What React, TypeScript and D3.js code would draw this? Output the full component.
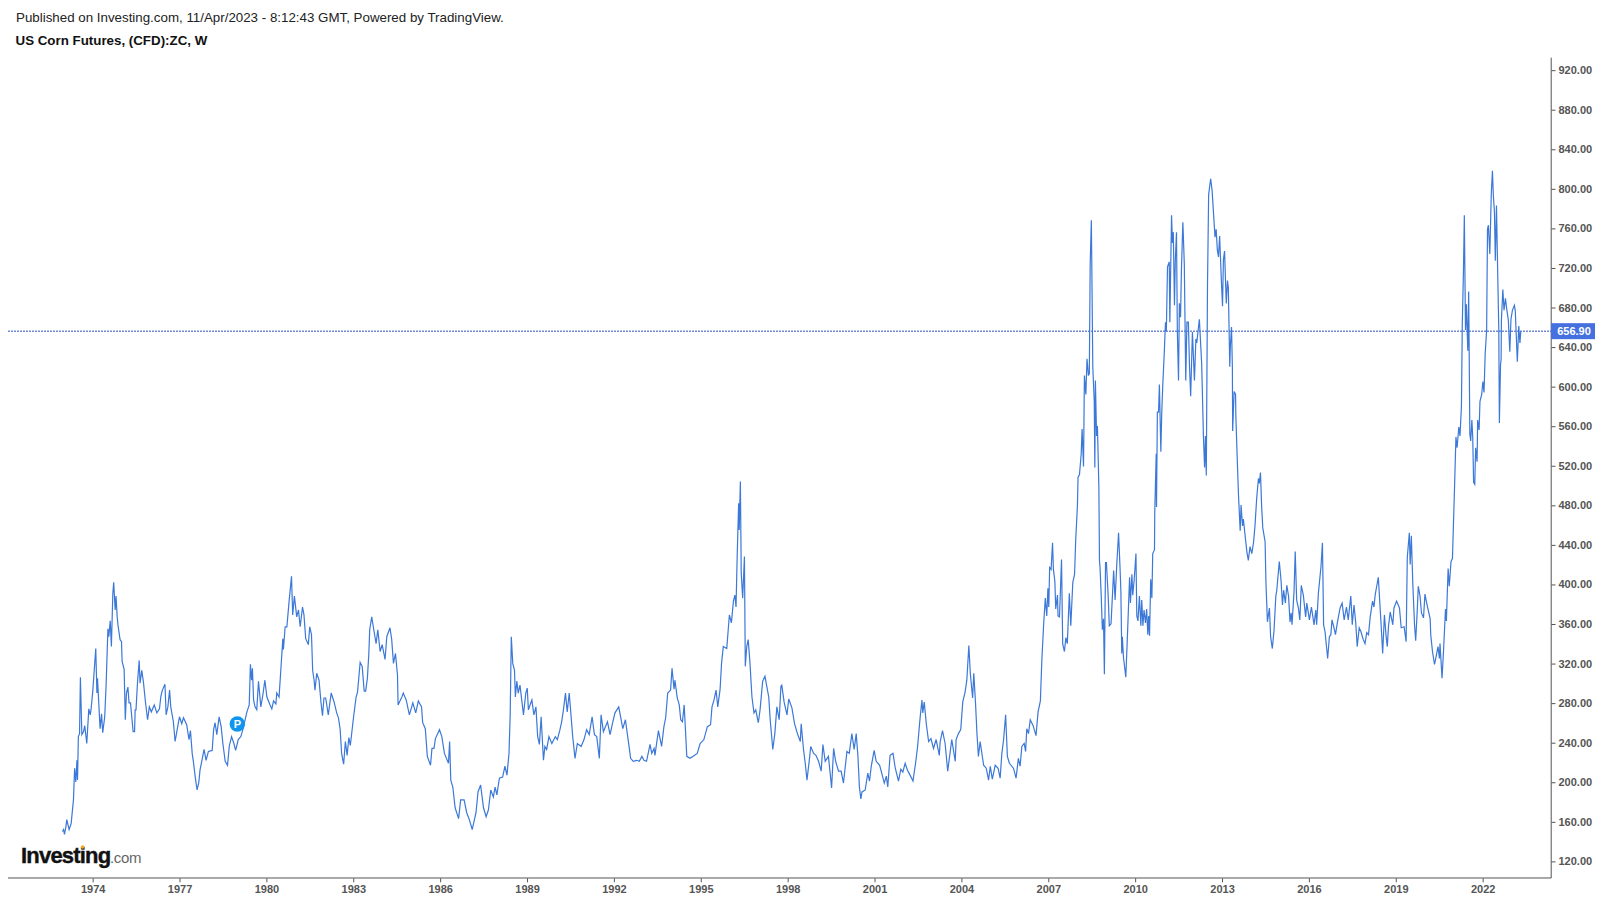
import React, { useEffect, useRef } from "react";
import * as d3 from "d3";

type Close = [number, number];

// [decimal year, weekly close]
const seventies: Close[] = [
  [1972.93, 151], [1972.97, 153], [1973.0, 148], [1973.05, 156], [1973.08, 163], [1973.16, 153], [1973.23, 159], [1973.31, 183],
  [1973.35, 215], [1973.39, 201], [1973.43, 223], [1973.45, 203], [1973.48, 247], [1973.52, 250], [1973.55, 307], [1973.6, 249],
  [1973.66, 252], [1973.7, 258], [1973.77, 240], [1973.84, 275], [1973.89, 269], [1973.92, 275], [1973.98, 294], [1974.08, 336],
  [1974.12, 291], [1974.14, 306], [1974.23, 255], [1974.28, 270], [1974.32, 251], [1974.39, 267], [1974.44, 301], [1974.5, 356],
  [1974.53, 348], [1974.58, 364], [1974.62, 338], [1974.67, 392], [1974.7, 403], [1974.75, 375], [1974.78, 389], [1974.82, 368],
  [1974.85, 359], [1974.92, 345], [1974.97, 343], [1974.99, 323], [1975.06, 315], [1975.1, 264], [1975.14, 291], [1975.19, 297],
  [1975.23, 281], [1975.28, 281], [1975.37, 252], [1975.42, 252], [1975.44, 274], [1975.47, 274], [1975.52, 301], [1975.58, 324],
  [1975.61, 301], [1975.67, 314], [1975.73, 301], [1975.8, 281], [1975.87, 264], [1975.93, 277], [1976.0, 272], [1976.1, 279],
  [1976.19, 271], [1976.28, 275], [1976.33, 288], [1976.38, 294], [1976.47, 300], [1976.51, 269], [1976.57, 277], [1976.63, 294],
  [1976.67, 277], [1976.76, 262], [1976.82, 242], [1976.88, 252], [1976.97, 267], [1977.05, 260], [1977.11, 266], [1977.22, 259],
  [1977.3, 244], [1977.35, 253], [1977.41, 230], [1977.45, 222], [1977.52, 205], [1977.58, 193], [1977.64, 201], [1977.68, 213],
  [1977.74, 222], [1977.82, 234], [1977.89, 223], [1977.97, 232], [1978.1, 233], [1978.15, 254], [1978.2, 261], [1978.26, 249],
  [1978.34, 267], [1978.41, 257], [1978.47, 240], [1978.55, 222], [1978.63, 218], [1978.69, 237], [1978.77, 247], [1978.85, 240],
  [1978.91, 233], [1979.0, 244], [1979.09, 247], [1979.16, 254], [1979.3, 272], [1979.38, 279], [1979.42, 320], [1979.46, 304],
  [1979.49, 316], [1979.53, 284], [1979.58, 277], [1979.64, 274], [1979.7, 303], [1979.78, 277], [1979.85, 289], [1979.92, 304],
];

const eighties: Close[] = [
  [1979.99, 287], [1980.1, 279], [1980.16, 275], [1980.22, 283], [1980.3, 280], [1980.33, 291], [1980.41, 287], [1980.47, 314],
  [1980.54, 346], [1980.56, 335], [1980.62, 358], [1980.68, 358], [1980.76, 385], [1980.84, 409], [1980.88, 370], [1980.94, 389],
  [1981.02, 368], [1981.08, 375], [1981.14, 358], [1981.22, 378], [1981.27, 370], [1981.33, 346], [1981.42, 340], [1981.47, 358],
  [1981.53, 350], [1981.57, 314], [1981.62, 304], [1981.65, 294], [1981.71, 311], [1981.79, 304], [1981.86, 281], [1981.91, 268],
  [1981.96, 286], [1982.02, 286], [1982.11, 269], [1982.21, 291], [1982.31, 282], [1982.4, 271], [1982.46, 266], [1982.52, 254],
  [1982.57, 230], [1982.64, 219], [1982.7, 242], [1982.76, 228], [1982.82, 246], [1982.87, 238], [1982.98, 266], [1983.07, 287],
  [1983.12, 292], [1983.21, 322], [1983.28, 318], [1983.35, 293], [1983.4, 293], [1983.46, 306], [1983.51, 331], [1983.54, 355],
  [1983.61, 368], [1983.67, 357], [1983.76, 341], [1983.82, 355], [1983.9, 333], [1983.97, 340], [1984.07, 325], [1984.13, 348],
  [1984.24, 357], [1984.3, 345], [1984.36, 321], [1984.43, 331], [1984.5, 309], [1984.52, 279], [1984.65, 287], [1984.7, 291],
  [1984.8, 284], [1984.91, 269], [1985.03, 281], [1985.13, 271], [1985.22, 283], [1985.33, 277], [1985.37, 261], [1985.46, 255],
  [1985.53, 227], [1985.64, 218], [1985.69, 235], [1985.76, 235], [1985.81, 245], [1985.95, 254], [1986.03, 247], [1986.12, 230],
  [1986.26, 220], [1986.3, 242], [1986.34, 203], [1986.41, 196], [1986.49, 175], [1986.61, 164], [1986.68, 183], [1986.8, 183],
  [1986.89, 170], [1986.98, 163], [1987.08, 153], [1987.21, 170], [1987.28, 191], [1987.37, 198], [1987.47, 175], [1987.56, 166],
  [1987.64, 173], [1987.72, 193], [1987.81, 186], [1987.87, 196], [1987.93, 188], [1988.02, 205], [1988.13, 206], [1988.21, 217],
  [1988.28, 208], [1988.35, 230], [1988.39, 267], [1988.43, 348], [1988.48, 321], [1988.54, 314], [1988.57, 287], [1988.62, 303],
  [1988.67, 291], [1988.73, 299], [1988.85, 269], [1988.93, 291], [1988.98, 296], [1989.02, 274], [1989.1, 281], [1989.14, 284],
  [1989.21, 269], [1989.28, 277], [1989.34, 247], [1989.4, 239], [1989.46, 267], [1989.54, 223], [1989.59, 237], [1989.65, 234],
  [1989.73, 247], [1989.83, 240], [1989.95, 247],
];

const nineties: Close[] = [
  [1990.02, 244], [1990.11, 254], [1990.17, 262], [1990.23, 274], [1990.3, 291], [1990.36, 272], [1990.43, 291], [1990.55, 247],
  [1990.63, 225], [1990.71, 240], [1990.84, 237], [1990.94, 244], [1991.03, 254], [1991.12, 249], [1991.22, 267], [1991.3, 249],
  [1991.38, 247], [1991.47, 225], [1991.53, 269], [1991.61, 252], [1991.75, 262], [1991.84, 249], [1991.93, 261], [1992.01, 271],
  [1992.14, 277], [1992.28, 255], [1992.37, 264], [1992.51, 234], [1992.55, 225], [1992.64, 222], [1992.76, 223], [1992.85, 222],
  [1992.94, 227], [1993.01, 223], [1993.1, 222], [1993.22, 239], [1993.28, 230], [1993.36, 235], [1993.39, 228], [1993.51, 253],
  [1993.62, 237], [1993.7, 257], [1993.76, 266], [1993.83, 291], [1993.93, 294], [1993.98, 316], [1994.05, 295], [1994.08, 304],
  [1994.16, 286], [1994.23, 279], [1994.28, 264], [1994.34, 262], [1994.4, 279], [1994.49, 227], [1994.6, 225], [1994.71, 227],
  [1994.85, 230], [1994.95, 240], [1995.08, 244], [1995.2, 257], [1995.31, 259], [1995.36, 277], [1995.43, 284], [1995.5, 294],
  [1995.56, 277], [1995.64, 295], [1995.69, 321], [1995.75, 338], [1995.87, 336], [1995.96, 370], [1996.03, 362], [1996.1, 384],
  [1996.15, 390], [1996.19, 378], [1996.23, 429], [1996.28, 483], [1996.3, 456], [1996.34, 505], [1996.37, 412], [1996.42, 387],
  [1996.48, 429], [1996.51, 318], [1996.56, 338], [1996.61, 345], [1996.67, 322], [1996.74, 287], [1996.81, 271], [1996.87, 274],
  [1996.96, 261], [1997.02, 274], [1997.11, 303], [1997.19, 308], [1997.25, 298], [1997.32, 287], [1997.37, 264], [1997.46, 234],
  [1997.53, 250], [1997.6, 277], [1997.68, 264], [1997.74, 298], [1997.77, 299], [1997.85, 282], [1997.95, 269], [1998.01, 285],
  [1998.12, 276], [1998.21, 260], [1998.31, 250], [1998.41, 242], [1998.44, 260], [1998.52, 234], [1998.58, 220], [1998.64, 203],
  [1998.72, 223], [1998.77, 237], [1998.87, 230], [1998.95, 228], [1999.04, 222], [1999.13, 212], [1999.19, 239], [1999.27, 222],
  [1999.38, 227], [1999.44, 210], [1999.49, 195], [1999.56, 235], [1999.63, 222], [1999.73, 212], [1999.82, 212], [1999.9, 200],
];

const noughties: Close[] = [
  [2000.02, 232], [2000.1, 230], [2000.19, 250], [2000.27, 234], [2000.34, 250], [2000.4, 227], [2000.45, 196], [2000.5, 184],
  [2000.54, 191], [2000.65, 193], [2000.74, 210], [2000.8, 202], [2000.86, 217], [2000.96, 233], [2001.03, 222], [2001.15, 218],
  [2001.31, 200], [2001.38, 207], [2001.43, 196], [2001.51, 228], [2001.61, 230], [2001.69, 215], [2001.8, 202], [2001.88, 214],
  [2001.95, 211], [2002.03, 220], [2002.11, 213], [2002.2, 208], [2002.3, 202], [2002.39, 220], [2002.46, 237], [2002.55, 267],
  [2002.61, 284], [2002.64, 271], [2002.69, 282], [2002.76, 260], [2002.84, 242], [2002.92, 245], [2003.01, 235], [2003.1, 244],
  [2003.21, 228], [2003.24, 242], [2003.32, 253], [2003.41, 240], [2003.5, 212], [2003.64, 244], [2003.76, 222], [2003.79, 244],
  [2003.87, 250], [2003.95, 254], [2004.02, 282], [2004.1, 292], [2004.16, 304], [2004.23, 339], [2004.28, 311], [2004.36, 286],
  [2004.4, 311], [2004.46, 281], [2004.51, 250], [2004.56, 227], [2004.62, 242], [2004.74, 218], [2004.83, 215], [2004.91, 203],
  [2004.97, 217], [2005.04, 204], [2005.14, 218], [2005.24, 215], [2005.31, 205], [2005.37, 230], [2005.43, 244], [2005.5, 269],
  [2005.56, 227], [2005.63, 220], [2005.77, 215], [2005.86, 205], [2005.94, 225], [2006.0, 217], [2006.06, 237], [2006.14, 240],
  [2006.19, 232], [2006.23, 255], [2006.29, 250], [2006.35, 264], [2006.45, 258], [2006.55, 248], [2006.62, 272], [2006.7, 283],
  [2006.75, 324], [2006.81, 359], [2006.87, 387], [2006.92, 369], [2006.96, 397], [2006.99, 378], [2007.02, 418], [2007.07, 416],
  [2007.12, 443], [2007.15, 416], [2007.2, 404], [2007.23, 376], [2007.29, 390], [2007.31, 369], [2007.36, 368], [2007.43, 426],
  [2007.47, 341], [2007.53, 333], [2007.58, 347], [2007.63, 341], [2007.7, 392], [2007.75, 359], [2007.82, 403], [2007.88, 411],
  [2007.92, 446], [2007.98, 481], [2008.0, 509], [2008.05, 512], [2008.11, 533], [2008.14, 558], [2008.19, 520], [2008.22, 612],
  [2008.27, 593], [2008.31, 629], [2008.36, 612], [2008.39, 614], [2008.42, 725], [2008.46, 769], [2008.51, 621], [2008.56, 586],
  [2008.58, 519], [2008.6, 607], [2008.64, 551], [2008.67, 561], [2008.72, 499], [2008.74, 425], [2008.76, 418], [2008.8, 390],
  [2008.84, 355], [2008.88, 366], [2008.91, 310], [2008.95, 423], [2008.98, 423], [2009.04, 390], [2009.08, 359], [2009.14, 361],
  [2009.2, 397], [2009.23, 415], [2009.28, 385], [2009.34, 422], [2009.4, 453], [2009.45, 418], [2009.48, 394], [2009.51, 331],
  [2009.53, 348], [2009.57, 327], [2009.65, 307], [2009.71, 352], [2009.78, 408], [2009.81, 382], [2009.86, 411], [2009.89, 390],
  [2009.94, 406],
];

const tens: Close[] = [
  [2010.0, 432], [2010.03, 369], [2010.07, 364], [2010.12, 389], [2010.17, 359], [2010.2, 385], [2010.24, 359], [2010.28, 375],
  [2010.33, 362], [2010.37, 376], [2010.41, 350], [2010.44, 369], [2010.47, 349], [2010.51, 406], [2010.55, 387], [2010.58, 432],
  [2010.64, 436], [2010.65, 474], [2010.7, 533], [2010.71, 479], [2010.74, 575], [2010.78, 575], [2010.81, 603], [2010.86, 535],
  [2010.89, 574], [2010.93, 605], [2010.98, 636], [2011.02, 666], [2011.05, 657], [2011.09, 722], [2011.15, 727], [2011.17, 666],
  [2011.23, 774], [2011.26, 746], [2011.29, 757], [2011.33, 683], [2011.36, 729], [2011.4, 757], [2011.43, 656], [2011.47, 607],
  [2011.5, 685], [2011.54, 671], [2011.57, 718], [2011.62, 767], [2011.67, 725], [2011.72, 607], [2011.76, 666], [2011.81, 666],
  [2011.85, 621], [2011.89, 591], [2011.95, 656], [2012.02, 607], [2012.07, 649], [2012.1, 645], [2012.19, 669], [2012.27, 624],
  [2012.33, 551], [2012.37, 519], [2012.4, 551], [2012.43, 511], [2012.47, 701], [2012.51, 795], [2012.58, 811], [2012.63, 799],
  [2012.73, 752], [2012.77, 760], [2012.81, 739], [2012.85, 732], [2012.89, 753], [2012.95, 708], [2012.99, 682], [2013.02, 729],
  [2013.06, 738], [2013.1, 701], [2013.12, 685], [2013.16, 708], [2013.19, 701], [2013.24, 621], [2013.26, 642], [2013.3, 661],
  [2013.33, 621], [2013.34, 556], [2013.39, 596], [2013.44, 593], [2013.45, 572], [2013.48, 544], [2013.5, 526], [2013.54, 492],
  [2013.6, 455], [2013.63, 481], [2013.68, 460], [2013.71, 467], [2013.77, 450], [2013.83, 434], [2013.88, 425], [2013.94, 439],
  [2014.0, 432], [2014.06, 443], [2014.11, 460], [2014.17, 488], [2014.23, 508], [2014.26, 503], [2014.3, 514], [2014.34, 480],
  [2014.38, 458], [2014.46, 444], [2014.49, 402], [2014.54, 363], [2014.61, 377], [2014.65, 348], [2014.71, 336], [2014.77, 355],
  [2014.83, 389], [2014.86, 394], [2014.95, 424], [2015.01, 405], [2015.06, 380], [2015.1, 395], [2015.16, 382], [2015.21, 400],
  [2015.27, 389], [2015.32, 363], [2015.36, 372], [2015.39, 360], [2015.46, 394], [2015.5, 434], [2015.55, 385], [2015.61, 377],
  [2015.66, 365], [2015.71, 400], [2015.78, 390], [2015.86, 368], [2015.9, 382], [2015.99, 365], [2016.06, 378], [2016.15, 360],
  [2016.21, 375], [2016.24, 360], [2016.3, 392], [2016.39, 419], [2016.44, 443], [2016.48, 360], [2016.53, 353], [2016.59, 335],
  [2016.62, 326], [2016.68, 348], [2016.73, 350], [2016.77, 365], [2016.84, 357], [2016.89, 350], [2016.96, 363], [2017.05, 377],
  [2017.12, 382], [2017.19, 365], [2017.27, 378], [2017.33, 365], [2017.42, 389], [2017.47, 360], [2017.53, 380], [2017.59, 362],
  [2017.64, 338], [2017.71, 357], [2017.77, 353], [2017.85, 345], [2017.91, 341], [2017.97, 352], [2018.03, 350], [2018.09, 368],
  [2018.17, 384], [2018.22, 378], [2018.26, 390], [2018.32, 400], [2018.37, 408], [2018.43, 378], [2018.48, 353], [2018.52, 331],
  [2018.58, 370], [2018.64, 348], [2018.68, 338], [2018.72, 358], [2018.78, 373], [2018.87, 360], [2018.91, 377], [2019.0, 384],
  [2019.1, 377], [2019.16, 357], [2019.26, 358], [2019.33, 343], [2019.37, 428], [2019.44, 453], [2019.47, 421], [2019.51, 450],
  [2019.56, 402], [2019.62, 360], [2019.66, 344], [2019.71, 372], [2019.75, 399], [2019.81, 389], [2019.86, 372], [2019.93, 367],
];

const twenties: Close[] = [
  [2019.98, 391], [2020.04, 382], [2020.16, 366], [2020.18, 350], [2020.24, 333], [2020.31, 320], [2020.36, 327], [2020.43, 338],
  [2020.48, 326], [2020.5, 341], [2020.57, 306], [2020.62, 333], [2020.69, 376], [2020.72, 364], [2020.78, 417], [2020.82, 399],
  [2020.88, 424], [2020.93, 427], [2020.95, 448], [2021.0, 497], [2021.05, 550], [2021.09, 539], [2021.15, 560], [2021.19, 551],
  [2021.24, 581], [2021.27, 665], [2021.31, 718], [2021.34, 774], [2021.38, 658], [2021.41, 684], [2021.46, 637], [2021.49, 697],
  [2021.53, 553], [2021.56, 546], [2021.6, 567], [2021.63, 550], [2021.66, 504], [2021.7, 502], [2021.73, 539], [2021.78, 525],
  [2021.8, 567], [2021.85, 557], [2021.88, 586], [2021.94, 593], [2021.98, 606], [2022.02, 595], [2022.06, 634], [2022.11, 658],
  [2022.14, 760], [2022.17, 764], [2022.22, 735], [2022.27, 795], [2022.31, 819], [2022.34, 795], [2022.38, 777], [2022.41, 728],
  [2022.45, 784], [2022.48, 735], [2022.5, 704], [2022.53, 658], [2022.55, 564], [2022.59, 623], [2022.61, 628], [2022.62, 668],
  [2022.67, 699], [2022.71, 678], [2022.76, 690], [2022.8, 680], [2022.86, 668], [2022.91, 636], [2022.95, 669], [2023.0, 678],
  [2023.07, 683], [2023.1, 677], [2023.17, 626], [2023.22, 662], [2023.26, 645], [2023.29, 656.9],
];

const yearTicks = [1974, 1977, 1980, 1983, 1986, 1989, 1992, 1995, 1998, 2001, 2004, 2007, 2010, 2013, 2016, 2019, 2022];
const priceTicks = d3.range(120, 921, 40);
const lastPrice = 656.9;
const publishedText = "Published on Investing.com, 11/Apr/2023 - 8:12:43 GMT, Powered by TradingView.";
const titleText = "US Corn Futures, (CFD):ZC, W";

const width = 1602;
const height = 902;
const lineColor = "#3c78d8";
const axisColor = "#555555";
const labelColor = "#555555";
const font = "'Liberation Sans', Arial, sans-serif";

const x = d3.scaleLinear().domain([1971.06, 2024.35]).range([8.3, 1551.5]);
const y = d3.scaleLinear().domain([103.7, 933.1]).range([878.3, 58]);

const App: React.FC = () => {
  const xAxisRef = useRef<SVGGElement>(null);
  const yAxisRef = useRef<SVGGElement>(null);

  useEffect(() => {
    const xAxis = d3
      .axisBottom(x)
      .tickValues(yearTicks)
      .tickSize(4)
      .tickSizeOuter(0)
      .tickPadding(3)
      .offset(-0.3)
      .tickFormat((d) => String(d));
    const yAxis = d3
      .axisRight(y)
      .tickValues(priceTicks)
      .tickSize(4)
      .tickSizeOuter(0)
      .tickPadding(3)
      .offset(-0.3)
      .tickFormat((d) => (d as number).toFixed(2));

    const style = (g: d3.Selection<SVGGElement, unknown, null, undefined>) => {
      g.selectAll("path,line").attr("stroke", axisColor);
      g.selectAll("text")
        .attr("fill", labelColor)
        .style("font-family", font)
        .style("font-size", "11px")
        .style("font-weight", "bold");
    };

    d3.select(xAxisRef.current!).call(xAxis).call(style);
    d3.select(yAxisRef.current!).call(yAxis).call(style);
  }, []);

  const closes = [...seventies, ...eighties, ...nineties, ...noughties, ...tens, ...twenties];
  const line = d3
    .line<Close>()
    .x((d) => x(d[0]))
    .y((d) => y(d[1]));

  return (
    <svg
      width={width}
      height={height}
      style={{ position: "absolute", left: 0, top: 0, background: "#fff" }}
    >
      <text x={16} y={22} fontFamily={font} fontSize={13.33} fill="#222">
        {publishedText}
      </text>
      <text x={15.5} y={45} fontFamily={font} fontSize={13.33} fontWeight="bold" fill="#111">
        {titleText}
      </text>

      <line x1={8} x2={1551} y1={y(lastPrice)} y2={y(lastPrice)} stroke="#2a4fc0" strokeDasharray="2 1" />
      <path d={line(closes) || ""} fill="none" stroke={lineColor} strokeWidth={1.2} />

      <g ref={xAxisRef} transform={`translate(0, ${y.range()[0]})`} />
      <g ref={yAxisRef} transform={`translate(${x.range()[1]}, 0)`} />

      <rect x={1551} y={y(lastPrice) - 8} width={44} height={16} fill="#4470e0" />
      <text
        x={1574}
        y={y(lastPrice) + 4}
        textAnchor="middle"
        fontFamily={font}
        fontSize={11}
        fontWeight="bold"
        fill="#fff"
      >
        {lastPrice.toFixed(2)}
      </text>

      <circle cx={237.3} cy={724} r={7.7} fill="#0d95f0" />
      <text x={237.3} y={728} textAnchor="middle" fontFamily={font} fontSize={11} fontWeight="bold" fill="#fff">
        P
      </text>

      <text
        x={21}
        y={863}
        fontFamily={font}
        fontSize={22}
        fontWeight="bold"
        fill="#111"
        stroke="#111"
        strokeWidth={0.4}
        letterSpacing={-0.8}
      >
        Investing
      </text>
      <circle cx={82.7} cy={847} r={1.8} fill="#f5a623" />
      <text x={110} y={863} fontFamily={font} fontSize={15} fill="#666" letterSpacing={-0.3}>
        .com
      </text>
    </svg>
  );
};

export default App;
